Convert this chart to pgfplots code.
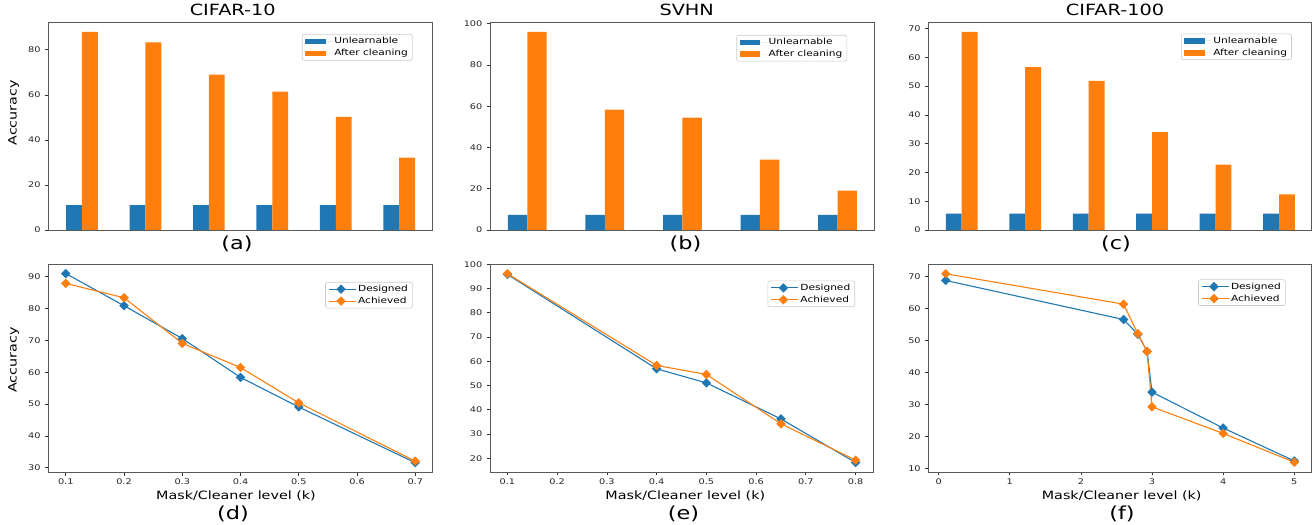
\documentclass[border=0pt]{standalone}
\usepackage{fontspec}
\setmainfont{DejaVu Sans}[FakeStretch=1.25]
\usepackage{pgfplots}
\pgfplotsset{compat=1.18}
\definecolor{tabblue}{HTML}{1F77B4}
\definecolor{taborange}{HTML}{FF7F0E}
\newcommand{\tickfont}{\fontsize{7.8}{9.4}\selectfont}
\newcommand{\legfont}{\fontsize{8.5}{10.2}\selectfont}
\newcommand{\labfont}{\fontsize{11.5}{13.8}\selectfont}
\newcommand{\titfont}{\fontsize{15.5}{18.6}\selectfont}
\newcommand{\subfont}{\fontsize{18}{21.6}\selectfont}

\pgfplotsset{
  base/.style={
    scale only axis,
    axis line style={black!65, line width=0.8bp},
    tick align=outside,
    tick pos=left,
    major tick length=3.5bp,
    tick style={black!80, line width=0.8bp},
    ticklabel style={font=\tickfont, text=black!85},
    yticklabel style={inner sep=0pt, xshift=-4bp},
    xticklabel style={inner sep=0pt, yshift=-3.2bp},
    /pgf/number format/assume math mode=true,
    legend cell align=left,
    legend style={font=\legfont, draw=black!20, line width=0.6bp, rounded corners=2bp, fill=white,
      inner xsep=3bp, inner ysep=1.5bp, row sep=1bp, nodes={inner sep=1.5bp}, anchor=north east},
  },
  barax/.style={base, height=208bp, xtick=\empty, ymin=0},
  lineax/.style={base},
  barA/.style={ybar, bar width=0.25, bar shift=0pt, fill=tabblue, draw=none,
    legend image code/.code={\fill[tabblue, sharp corners] (0bp,-2.7bp) rectangle (20.5bp,2.7bp); \path (0bp,0bp) -- (27.5bp,0bp);}},
  barB/.style={ybar, bar width=0.25, bar shift=0pt, fill=taborange, draw=none,
    legend image code/.code={\fill[taborange, sharp corners] (0bp,-2.7bp) rectangle (20.5bp,2.7bp); \path (0bp,0bp) -- (27.5bp,0bp);}},
  lineleg/.style={legend image code/.code={\draw[##1, sharp corners, mark repeat=2, mark phase=2] plot coordinates {(0bp,0bp) (12bp,0bp) (24bp,0bp)}; \path (0bp,0bp) -- (27bp,0bp);}},
  linA/.style={tabblue, line width=1.1bp, mark=square*, mark size=2.8bp, mark options={rotate=45, solid, fill=tabblue}, lineleg},
  linB/.style={taborange, line width=1.1bp, mark=square*, mark size=2.8bp, mark options={rotate=45, solid, fill=taborange}, lineleg},
}

\begin{document}
\begin{tikzpicture}[x=1bp, y=1bp]
% ---------- (a) CIFAR-10 bars ----------
\begin{axis}[barax, at={(48.3bp,295bp)}, anchor=south west, width=384.4bp,
  xmin=-0.531, xmax=5.528, ymax=92.4, ytick={0,20,40,60,80},
  legend style={at={(0.948,0.942)}}]
\addplot[barA] coordinates {(-0.125,11) (0.875,11) (1.875,11) (2.875,11) (3.875,11) (4.875,11)};
\addplot[barB] coordinates {(0.125,88.0) (1.125,83.3) (2.125,69.0) (3.125,61.5) (4.125,50.3) (5.125,32.2)};
\legend{Unlearnable, After cleaning}
\end{axis}
% ---------- (b) SVHN bars ----------
\begin{axis}[barax, at={(490bp,295bp)}, anchor=south west, width=384bp,
  xmin=-0.48, xmax=4.47, ymax=100.8, ytick={0,20,40,60,80,100},
  legend style={at={(0.930,0.9375)}}]
\addplot[barA] coordinates {(-0.125,7.3) (0.875,7.3) (1.875,7.3) (2.875,7.3) (3.875,7.3)};
\addplot[barB] coordinates {(0.125,96.0) (1.125,58.3) (2.125,54.5) (3.125,34.1) (4.125,19.1)};
\legend{Unlearnable, After cleaning}
\end{axis}
% ---------- (c) CIFAR-100 bars ----------
\begin{axis}[barax, at={(928.3bp,295bp)}, anchor=south west, width=383.4bp,
  xmin=-0.526, xmax=5.515, ymax=72.3, ytick={0,10,20,30,40,50,60,70},
  legend style={at={(0.948,0.944)}}]
\addplot[barA] coordinates {(-0.125,5.7) (0.875,5.7) (1.875,5.7) (2.875,5.7) (3.875,5.7) (4.875,5.7)};
\addplot[barB] coordinates {(0.125,68.9) (1.125,56.6) (2.125,51.8) (3.125,34.0) (4.125,22.7) (5.125,12.4)};
\legend{Unlearnable, After cleaning}
\end{axis}
% ---------- (d) CIFAR-10 lines ----------
\begin{axis}[lineax, at={(48.3bp,52.7bp)}, anchor=south west, width=384.4bp, height=208.3bp,
  xmin=0.07, xmax=0.73, ymin=28.6, ymax=94.0,
  xtick={0.1,0.2,0.3,0.4,0.5,0.6,0.7}, ytick={30,40,50,60,70,80,90},
  legend style={at={(0.948,0.914)}}]
\addplot[linA] coordinates {(0.1,91.0) (0.2,80.9) (0.3,70.6) (0.4,58.4) (0.5,49.1) (0.7,31.6)};
\addplot[linB] coordinates {(0.1,87.9) (0.2,83.4) (0.3,69.1) (0.4,61.5) (0.5,50.4) (0.7,32.1)};
\legend{Designed, Achieved}
\end{axis}
% ---------- (e) SVHN lines ----------
\begin{axis}[lineax, at={(490bp,53bp)}, anchor=south west, width=383bp, height=208bp,
  xmin=0.065, xmax=0.835, ymin=14.3, ymax=100.2,
  xtick={0.1,0.2,0.3,0.4,0.5,0.6,0.7,0.8}, ytick={20,30,40,50,60,70,80,90,100},
  legend style={at={(0.953,0.92)}}]
\addplot[linA] coordinates {(0.1,95.9) (0.4,56.9) (0.5,51.1) (0.65,36.2) (0.8,18.2)};
\addplot[linB] coordinates {(0.1,96.2) (0.4,58.3) (0.5,54.6) (0.65,34.2) (0.8,19.2)};
\legend{Designed, Achieved}
\end{axis}
% ---------- (f) CIFAR-100 lines ----------
\begin{axis}[lineax, at={(928.3bp,53bp)}, anchor=south west, width=383.4bp, height=208bp,
  xmin=-0.145, xmax=5.245, ymin=8.95, ymax=73.95,
  xtick={0,1,2,3,4,5}, ytick={10,20,30,40,50,60,70},
  legend style={at={(0.932,0.926)}}]
\addplot[linA] coordinates {(0.1,68.8) (2.6,56.6) (2.8,52.0) (2.93,46.6) (3.0,33.9) (4,22.7) (5,12.4)};
\addplot[linB] coordinates {(0.1,70.9) (2.6,61.4) (2.8,52.2) (2.93,46.6) (3.0,29.3) (4,21.0) (5,12.0)};
\legend{Designed, Achieved}
\end{axis}
% ---------- titles and labels ----------
\node[anchor=base, font=\titfont] at (232.7,509) {CIFAR-10};
\node[anchor=base, font=\titfont] at (686.7,509) {SVHN};
\node[anchor=base, font=\titfont] at (1115,509) {CIFAR-100};
\node[anchor=base, font=\subfont] at (237,275.4) {(a)};
\node[anchor=base, font=\subfont] at (685.5,275.4) {(b)};
\node[anchor=base, font=\subfont] at (1116,275.4) {(c)};
\node[anchor=base, font=\subfont] at (233,5.7) {(d)};
\node[anchor=base, font=\subfont] at (683.5,5.7) {(e)};
\node[anchor=base, font=\subfont] at (1122,5.7) {(f)};
\node[anchor=base, font=\labfont] at (236,25) {Mask/Cleaner level (k)};
\node[anchor=base, font=\labfont] at (685.3,25) {Mask/Cleaner level (k)};
\node[anchor=base, font=\labfont] at (1121.7,25) {Mask/Cleaner level (k)};
\node[anchor=base, rotate=90, font=\labfont] at (16.7,412.2) {Accuracy};
\node[anchor=base, rotate=90, font=\labfont] at (16.7,165) {Accuracy};
\pgfresetboundingbox
\useasboundingbox (0,0) rectangle (1315,525);
\end{tikzpicture}
\end{document}
